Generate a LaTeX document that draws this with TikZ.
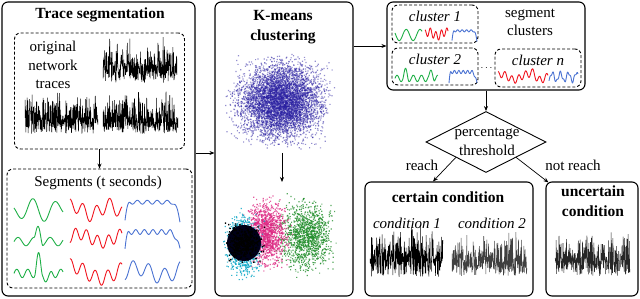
\documentclass[tikz,border=0pt]{standalone}
\usepackage{fontspec}
\setmainfont{Liberation Serif}
\usetikzlibrary{shapes.geometric,arrows.meta,calc}
\definecolor{wgreen}{RGB}{30,175,70}
\definecolor{wred}{RGB}{240,20,30}
\definecolor{wblue}{RGB}{75,115,210}
\definecolor{cloudblue}{RGB}{40,30,160}
\definecolor{sgreen}{RGB}{30,140,40}
\definecolor{smag}{RGB}{220,40,130}
\definecolor{scyan}{RGB}{20,170,200}
\tikzset{
  box/.style={draw, line width=1.1pt, rounded corners=6pt, inner sep=0pt},
  dbox/.style={draw, line width=0.9pt, dash pattern=on 3pt off 2pt, rounded corners=6pt, inner sep=0pt},
  arr/.style={-{Stealth[length=5pt,width=4pt]}, line width=0.7pt},
  txt/.style={font=\fontsize{15}{18.5}\selectfont, inner sep=0pt, align=center},
  btxt/.style={font=\fontsize{15.5}{19.5}\selectfont\bfseries, inner sep=0pt, align=center},
  itxt/.style={font=\fontsize{15}{18}\selectfont\itshape, inner sep=0pt},
  tr/.style={line width=0.5pt, black, line join=bevel},
  gw/.style={wgreen, line width=0.9pt, line join=round},
  rw/.style={wred, line width=0.9pt, line join=round},
  bw/.style={wblue, line width=0.9pt, line join=round},
  area/.style={inner sep=0pt, outer sep=0pt}
}
\newcommand{\wv}[6]{\draw[#1] plot[domain=0:1, samples=90, variable=\t] ({#2+#3*\t},{#4-#5*(#6)});}
\newcommand{\ntrace}[7]{\pgfmathsetseed{#7}\draw[#1] plot[domain=#2:#3, samples=320, variable=\t] (\t,{#4+#5*rand-#6*rnd^3});}
% dots: colour, opacity, batches, cx, sx, cy, sy, size
\newcommand{\dotcloud}[8]{%
  \foreach \j in {1,...,#3}{%
    \fill[#1, fill opacity=#2] \foreach \i in {1,...,50}{({#4+#5*(rand+rand+rand)},{#6+#7*(rand+rand+rand)}) rectangle ++(#8,#8)};
  }}
\begin{document}
\begin{tikzpicture}[x=1pt, y=-1pt]
\useasboundingbox (0,0) rectangle (640,299);

% ---------- left box: trace segmentation
\node[box, minimum width=193pt, minimum height=294pt] (left) at (98.5,149) {};
\node[btxt] (t1) at (100,15) {Trace segmentation};
\node[dbox, minimum width=170pt, minimum height=116pt] (d1) at (99.5,91) {};
\node[txt] (orig) at (53,65) {original\\network\\traces};
\ntrace{tr}{103}{177}{74}{9}{30}{3}
\ntrace{tr}{25}{98}{125}{9}{26}{17}
\ntrace{tr}{103}{178}{126}{8}{27}{29}
\node[dbox, minimum width=185pt, minimum height=119pt] (d2) at (99.5,228.5) {};
\node[txt] (seg) at (98,183) {Segments (t seconds)};
\draw[arr] (d1.south) -- (d2.north);
% waves row 1
\wv{gw}{14}{49}{210}{13}{0.9*sin(760*\t-200)*(0.5+0.5*sin(180*\t))}
\wv{rw}{70}{52}{210}{13}{0.55*sin(1400*\t+100)+0.35*sin(520*\t+60)}
\wv{bw}{125}{55}{210}{13}{0.6+0.15*sin(2000*\t)-1.4*max(0,1-\t/0.1)^2-1.5*max(0,(\t-0.85)/0.15)^2}
% row 2
\wv{gw}{14}{49}{238}{12}{0.35*sin(1100*\t)+1.3*max(0,1-((\t-0.5)/0.09)^2)^2-0.3}
\wv{rw}{70}{52}{238}{12}{0.5*sin(1700*\t-90)+0.35*sin(400*\t+20)}
\wv{bw}{125}{55}{238}{12}{0.5+0.2*sin(2300*\t)-1.4*max(0,1-\t/0.08)^2-1.5*max(0,(\t-0.82)/0.18)^2}
% row 3
\wv{gw}{14}{49}{272}{14}{0.3*sin(1600*\t)+1.2*max(0,1-((\t-0.5)/0.08)^2)^2-0.5*max(0,1-((\t-0.68)/0.1)^2)^2-0.1}
\wv{rw}{70}{52}{272}{14}{0.5*sin(1500*\t+80)+0.45*cos(300*\t)}
\wv{bw}{125}{55}{272}{14}{0.55*sin(1250*\t-90)+0.3*sin(400*\t)}

% ---------- middle box: K-means
\node[box, minimum width=138pt, minimum height=294pt] (mid) at (284,149) {};
\node[btxt] (t2) at (283,27) {K-means\\clustering};
\node[area, minimum width=116pt, minimum height=104pt] (cloud1) at (282,101) {};
\node[area, minimum width=116pt, minimum height=100pt] (cloud2) at (282,232) {};
\pgfmathsetseed{11}
\dotcloud{cloudblue}{0.5}{110}{279.5}{19.5}{100.5}{17}{1.2}
\pgfmathsetseed{23}
\dotcloud{sgreen}{0.75}{24}{305}{12}{235.5}{15}{1.2}
\dotcloud{smag}{0.75}{26}{266}{9}{233.5}{14}{1.2}
\dotcloud{scyan}{0.85}{22}{242.5}{7.5}{244.5}{13}{1.2}
\fill[black!90!blue] (244,243) ellipse (17pt and 18pt);
\dotcloud{black}{1}{8}{243.5}{7.5}{242.5}{7.5}{1.4}
\draw[arr] (cloud1.south) -- (cloud2.north);
\draw[arr] ([yshift=-4pt]left.east) -- ([yshift=-4pt]mid.west);

% ---------- segment clusters
\node[box, minimum width=198pt, minimum height=88pt] (segc) at (486,46) {};
\draw[arr] (mid.east |- segc.west) -- (segc.west);
\node[txt] (sct) at (530,22.5) {segment\\clusters};
\node[dbox, minimum width=86pt, minimum height=38pt] (c1) at (435,24) {};
\node[dbox, minimum width=86pt, minimum height=37pt] (c2) at (435,66.5) {};
\node[dbox, minimum width=86pt, minimum height=38pt] (cn) at (538,68) {};
\node[itxt] (c1t) at (435,16) {cluster 1};
\node[itxt] (c2t) at (435,59) {cluster 2};
\node[itxt] (cnt) at (538,60) {cluster n};
\node[inner sep=0pt] (dots) at (486.5,68) {$\cdots$};
\wv{gw}{395}{27}{35}{7}{0.8*sin(700*\t-200)}
\wv{rw}{425}{23}{34}{7}{0.6*sin(1500*\t+100)+0.3*sin(500*\t)}
\wv{bw}{452}{25}{35}{7}{0.6+0.15*sin(2000*\t)-1.4*max(0,1-\t/0.1)^2-1.5*max(0,(\t-0.85)/0.15)^2}
\wv{gw}{395}{43}{76}{8}{0.4*sin(1900*\t)+0.9*max(0,1-((\t-0.25)/0.07)^2)^2+0.9*max(0,1-((\t-0.85)/0.07)^2)^2-0.3}
\wv{bw}{449}{28}{76}{8}{0.5+0.2*sin(2300*\t)-1.4*max(0,1-\t/0.08)^2-1.5*max(0,(\t-0.82)/0.18)^2}
\wv{rw}{498}{50}{77}{8}{0.45*sin(2600*\t+90)+0.35*sin(700*\t+40)+0.5*max(0,1-((\t-0.7)/0.1)^2)^2}
\wv{bw}{549}{29}{77}{8}{0.55*sin(1300*\t-60)+0.2*sin(3000*\t)}

% ---------- decision
\node[draw, diamond, line width=0.9pt, minimum width=120pt, minimum height=61pt, inner sep=0pt] (dia) at (486,142) {};
\node[txt] (diat) at (487,142) {percentage\\threshold};
\draw[arr] (segc.south) -- (dia.north);

% ---------- certain / uncertain
\node[box, minimum width=168pt, minimum height=114pt] (cert) at (449,239) {};
\node[box, minimum width=92pt, minimum height=114pt] (unc) at (592,239) {};
\draw[arr] ($(dia.west)!0.5!(dia.south)$) -- ([xshift=-16pt]cert.north);
\draw[arr] ($(dia.east)!0.5!(dia.south)$) -- ([xshift=3pt,yshift=-1pt]unc.north west);
\node[txt] (reach) at (422,165) {reach};
\node[txt] (nreach) at (573,165) {not reach};
\node[btxt] (certt) at (448,197) {certain condition};
\node[btxt] (unct) at (593,201) {uncertain\\condition};
\node[itxt] (cd1) at (407,223) {condition 1};
\node[itxt] (cd2) at (492,223) {condition 2};
\ntrace{tr}{370}{443}{266}{11}{30}{41}
\ntrace{tr, black!75}{452}{527}{266}{10}{26}{53}
\ntrace{tr, black!85}{555}{630}{267}{9}{28}{67}
\end{tikzpicture}
\end{document}
